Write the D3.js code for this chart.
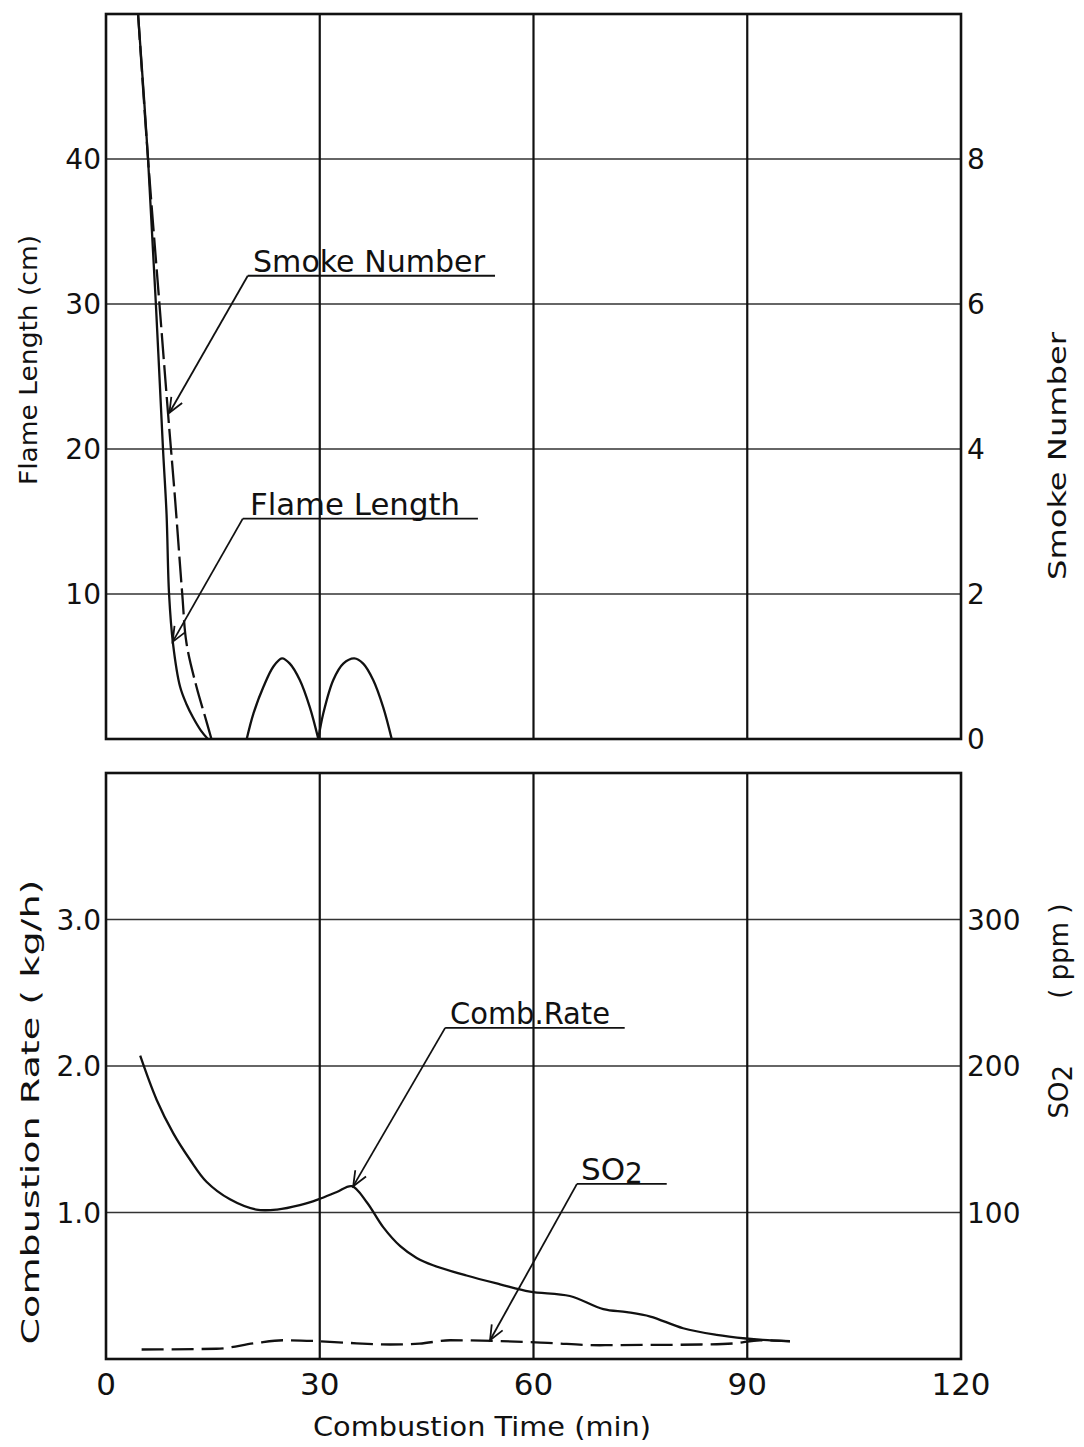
<!DOCTYPE html>
<meta charset="utf-8">
<style>
  body { margin: 0; background: #fff; }
  svg { display: block; }
  text { font-family: "DejaVu Sans", "Liberation Sans", sans-serif; fill: #111; }
  .grid-h { stroke: #333; stroke-width: 1.4; }
  .grid-v { stroke: #111; stroke-width: 2.2; }
  .frame { fill: none; stroke: #111; stroke-width: 2.6; }
  .curve { fill: none; stroke: #111; stroke-width: 2.3; }
  .dash { stroke-dasharray: 22 8; }
  .lead { fill: none; stroke: #111; stroke-width: 1.8; }
</style>
<body>
<div id="chart"></div>
<script src="https://cdn.jsdelivr.net/npm/d3@7"></script>
<script>
var width = 1084, height = 1447;

// ---- data ----
// top panel: flame length (cm, left axis), smoke number (right axis)
var flameTime = [4.5, 5.9, 7.0, 8.0, 8.5, 8.85, 9.4, 10.4, 11.3, 12.2, 13.3, 14.3,
                 null,
                 19.75, 20.7, 22.1, 23.5, 24.7, 25.8, 27.2, 28.6, 29.8,
                 null,
                 29.8, 30.5, 31.9, 33.3, 34.85, 36.1, 37.5, 38.9, 40.1];
var flameLen  = [50, 40, 30, 20, 15.5, 10, 6.6, 3.6, 2.4, 1.5, 0.6, 0,
                 null,
                 0, 1.77, 3.6, 5.0, 5.56, 5.2, 4.07, 2.2, 0,
                 null,
                 0, 1.77, 4.07, 5.2, 5.56, 5.2, 4.07, 2.2, 0];
var smokeTime = [4.5, 5.9, 7.5, 8.7, 9.7, 10.7, 11.3, 12.7, 13.9, 14.8];
var smokeNum  = [10, 8, 6, 4.5, 3.3, 2.0, 1.32, 0.72, 0.31, 0];

// bottom panel: combustion rate (kg/h, left axis), SO2 (ppm, right axis)
var combTime = [4.8, 7.1, 9.45, 11.8, 14.1, 17.4, 21.1, 24.0, 27.2, 29.8, 32.4, 34.5,
                36.6, 38.9, 41.3, 43.6, 45.9, 50.6, 55.3, 59.5, 65.1, 69.8, 73.1,
                76.4, 81.0, 85.7, 89.8, 92.2, 96.0];
var combRate = [2.07, 1.77, 1.54, 1.36, 1.21, 1.09, 1.02, 1.02, 1.05, 1.09, 1.14, 1.18,
                1.07, 0.90, 0.77, 0.69, 0.64, 0.57, 0.51, 0.46, 0.43, 0.34, 0.32,
                0.29, 0.21, 0.165, 0.14, 0.13, 0.12];
var so2Time = [5.0, 15.5, 21.1, 24.9, 29.6, 34, 39.9, 44, 48.3, 55.3, 62, 69.3, 76, 83.4, 88, 91.8, 96.0];
var so2Ppm  = [6.5, 7, 11, 12.8, 12.2, 11, 9.9, 10.5, 12.8, 12.2, 11, 9.4, 9.6, 9.9, 10.6, 12.8, 12.2];

// ticks
var xTicks = [0, 30, 60, 90, 120];
var flameTicks = [10, 20, 30, 40];
var smokeTicks = [0, 2, 4, 6, 8];
var combTicks = [1, 2, 3];
var so2Ticks = [100, 200, 300];

// ---- scales ----
var x = d3.scaleLinear().domain([0, 120]).range([106, 961]);
var yFlame = d3.scaleLinear().domain([0, 50]).range([739, 14]);
var ySmoke = d3.scaleLinear().domain([0, 10]).range([739, 14]);
var yComb = d3.scaleLinear().domain([0, 4]).range([1359, 773]);
var ySO2 = d3.scaleLinear().domain([0, 400]).range([1359, 773]);

var svg = d3.select("#chart").append("svg")
  .attr("width", width)
  .attr("height", height);

svg.append("rect").attr("width", width).attr("height", height).attr("fill", "#fff");

function panel(yL, hTicks) {
  var g = svg.append("g");
  var y0 = yL.range()[0], y1 = yL.range()[1];
  g.selectAll(".grid-h").data(hTicks).enter().append("line")
    .attr("class", "grid-h")
    .attr("x1", x(0)).attr("x2", x(120))
    .attr("y1", function(d) { return yL(d); })
    .attr("y2", function(d) { return yL(d); });
  g.selectAll(".grid-v").data([30, 60, 90]).enter().append("line")
    .attr("class", "grid-v")
    .attr("x1", function(d) { return x(d); })
    .attr("x2", function(d) { return x(d); })
    .attr("y1", y0).attr("y2", y1);
  g.append("rect").attr("class", "frame")
    .attr("x", x(0)).attr("y", y1)
    .attr("width", x(120) - x(0)).attr("height", y0 - y1);
  return g;
}

panel(yFlame, flameTicks);
panel(yComb, combTicks);

// tick labels
function leftLabels(scale, vals, fmt) {
  svg.append("g").selectAll("text").data(vals).enter().append("text")
    .attr("x", 101)
    .attr("y", function(d) { return scale(d); })
    .attr("dy", "0.36em")
    .attr("text-anchor", "end")
    .attr("font-size", 28)
    .text(fmt);
}
function rightLabels(scale, vals, fmt) {
  svg.append("g").selectAll("text").data(vals).enter().append("text")
    .attr("x", 967)
    .attr("y", function(d) { return scale(d); })
    .attr("dy", "0.36em")
    .attr("font-size", 28)
    .text(fmt);
}
leftLabels(yFlame, flameTicks, function(d) { return d; });
rightLabels(ySmoke, smokeTicks, function(d) { return d; });
leftLabels(yComb, combTicks, d3.format(".1f"));
rightLabels(ySO2, so2Ticks, function(d) { return d; });

svg.append("g").selectAll("text").data(xTicks).enter().append("text")
  .attr("x", function(d) { return x(d); })
  .attr("y", 1395)
  .attr("text-anchor", "middle")
  .attr("font-size", 31)
  .text(function(d) { return d; });

// axis titles
svg.append("text")
  .attr("transform", "translate(37,360) rotate(-90)")
  .attr("text-anchor", "middle").attr("font-size", 25)
  .attr("textLength", 250).attr("lengthAdjust", "spacingAndGlyphs")
  .text("Flame Length  (cm)");
svg.append("text")
  .attr("transform", "translate(1066,456) rotate(-90)")
  .attr("text-anchor", "middle").attr("font-size", 25)
  .attr("textLength", 248).attr("lengthAdjust", "spacingAndGlyphs")
  .text("Smoke Number");
svg.append("text")
  .attr("transform", "translate(39,1112) rotate(-90)")
  .attr("text-anchor", "middle").attr("font-size", 25)
  .attr("textLength", 465).attr("lengthAdjust", "spacingAndGlyphs")
  .text("Combustion Rate ( kg/h)");
var so2Title = svg.append("text")
  .attr("transform", "translate(1068,1011) rotate(-90)")
  .attr("text-anchor", "middle").attr("font-size", 26);
so2Title.append("tspan").text("SO");
so2Title.append("tspan").attr("dy", 4).text("2");
so2Title.append("tspan").attr("dy", -4).attr("xml:space", "preserve").text("        ( ppm )");
svg.append("text")
  .attr("x", 482).attr("y", 1436)
  .attr("text-anchor", "middle").attr("font-size", 27)
  .attr("textLength", 338).attr("lengthAdjust", "spacingAndGlyphs")
  .text("Combustion Time  (min)");

// ---- curves ----
function pairs(xs, ys) { return xs.map(function(t, i) { return [t, ys[i]]; }); }
var smooth = d3.curveCatmullRom.alpha(0.5);

var lineFlame = d3.line()
  .defined(function(d) { return d[0] !== null && d[1] !== null; })
  .x(function(d) { return x(d[0]); })
  .y(function(d) { return yFlame(d[1]); })
  .curve(smooth);
svg.append("path").attr("class", "curve")
  .attr("d", lineFlame(pairs(flameTime, flameLen)));

var lineSmoke = d3.line()
  .x(function(d) { return x(d[0]); })
  .y(function(d) { return ySmoke(d[1]); })
  .curve(smooth);
svg.append("path").attr("class", "curve")
  .attr("stroke-dasharray", "26 6")
  .attr("d", lineSmoke(pairs(smokeTime, smokeNum)));

var lineComb = d3.line()
  .x(function(d) { return x(d[0]); })
  .y(function(d) { return yComb(d[1]); })
  .curve(smooth);
svg.append("path").attr("class", "curve")
  .attr("d", lineComb(pairs(combTime, combRate)));

var lineSO2 = d3.line()
  .x(function(d) { return x(d[0]); })
  .y(function(d) { return ySO2(d[1]); })
  .curve(d3.curveMonotoneX);
svg.append("path").attr("class", "curve dash")
  .attr("d", lineSO2(pairs(so2Time, so2Ppm)));

// ---- leader annotations (data units of the left axis of each panel) ----
var notes = [
  { label: "Smoke Number", y: yFlame, t0: 19.9, t1: 54.6, v: 31.95, tipT: 8.9, tipV: 22.5, tx: 253, tw: 232, fs: 31 },
  { label: "Flame Length", y: yFlame, t0: 19.2, t1: 52.2, v: 15.2, tipT: 9.35, tipV: 6.7, tx: 250, tw: 210, fs: 31 },
  { label: "Comb.Rate", y: yComb, t0: 47.6, t1: 72.8, v: 2.26, tipT: 34.7, tipV: 1.18, tx: 450, tw: 160, fs: 30 },
  { label: "SO2", y: yComb, t0: 66.1, t1: 78.7, v: 1.195, tipT: 53.9, tipV: 0.128, tx: 581, tw: 62, fs: 31 }
];

notes.forEach(function(n) {
  var ax = x(n.t0), ay = n.y(n.v), bx = x(n.tipT), by = n.y(n.tipV);
  svg.append("line").attr("class", "lead")
    .attr("x1", ax).attr("y1", ay).attr("x2", x(n.t1)).attr("y2", ay);
  svg.append("line").attr("class", "lead")
    .attr("x1", ax).attr("y1", ay).attr("x2", bx).attr("y2", by);
  var ang = Math.atan2(ay - by, ax - bx), len = 16, spread = 0.4;
  svg.append("path").attr("class", "lead")
    .attr("d", "M" + (bx + len * Math.cos(ang - spread)) + "," + (by + len * Math.sin(ang - spread)) +
               "L" + bx + "," + by +
               "L" + (bx + len * Math.cos(ang + spread)) + "," + (by + len * Math.sin(ang + spread)));
  var t = svg.append("text")
    .attr("x", n.tx).attr("y", ay - 4)
    .attr("font-size", n.fs);
  if (n.label === "SO2") {
    t.append("tspan").text("SO");
    t.append("tspan").attr("dy", 3).attr("font-size", n.fs * 0.9).text("2");
  } else {
    t.attr("textLength", n.tw).attr("lengthAdjust", "spacingAndGlyphs").text(n.label);
  }
});
</script>
</body>
